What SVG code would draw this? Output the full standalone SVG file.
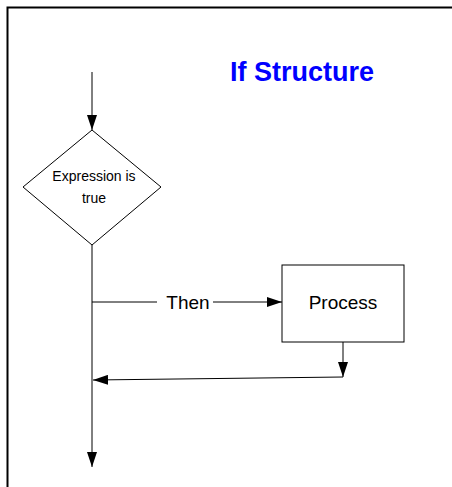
<svg xmlns="http://www.w3.org/2000/svg" width="452" height="487" viewBox="0 0 452 487">
<style>
.ln{stroke:#000;stroke-width:1;fill:none}
.shape{stroke:#000;stroke-width:1;fill:#fff}
.lbl{font-family:"Liberation Sans",Arial,sans-serif;fill:#000}
</style>
<defs>
<marker id="ah" markerUnits="userSpaceOnUse" markerWidth="16" markerHeight="10" refX="15" refY="5" orient="auto">
<path d="M0,0 L15,5 L0,10 Z" fill="#000"/>
</marker>
</defs>
<rect width="452" height="487" fill="#fff"/>
<g id="frame">
<path d="M7.5,487 V7.5 H452" stroke="#000" stroke-width="2" fill="none"/>
</g>
<g id="title">
<text x="230" y="81" class="lbl" font-size="27" font-weight="bold" fill="#0000ff" style="fill:#0000ff">If Structure</text>
</g>
<g id="connectors">
<path class="ln" d="M92,72 V130" marker-end="url(#ah)"/>
<path class="ln" d="M92,245 V467" marker-end="url(#ah)"/>
<path class="ln" d="M92,302 H157"/>
<path class="ln" d="M213,302 H282" marker-end="url(#ah)"/>
<path class="ln" d="M343,342 V377" marker-end="url(#ah)"/>
<path class="ln" d="M343,377 L93,380" marker-end="url(#ah)"/>
<text x="188" y="309" class="lbl" font-size="19" text-anchor="middle">Then</text>
</g>
<g id="decision">
<polygon class="shape" points="92,130 161,187 92,245 23,187"/>
<text x="94" y="181" class="lbl" font-size="14" text-anchor="middle">Expression is</text>
<text x="94" y="203" class="lbl" font-size="14" text-anchor="middle">true</text>
</g>
<g id="process">
<rect class="shape" x="282" y="265" width="122" height="77"/>
<text x="343" y="309" class="lbl" font-size="19" text-anchor="middle">Process</text>
</g>
</svg>
